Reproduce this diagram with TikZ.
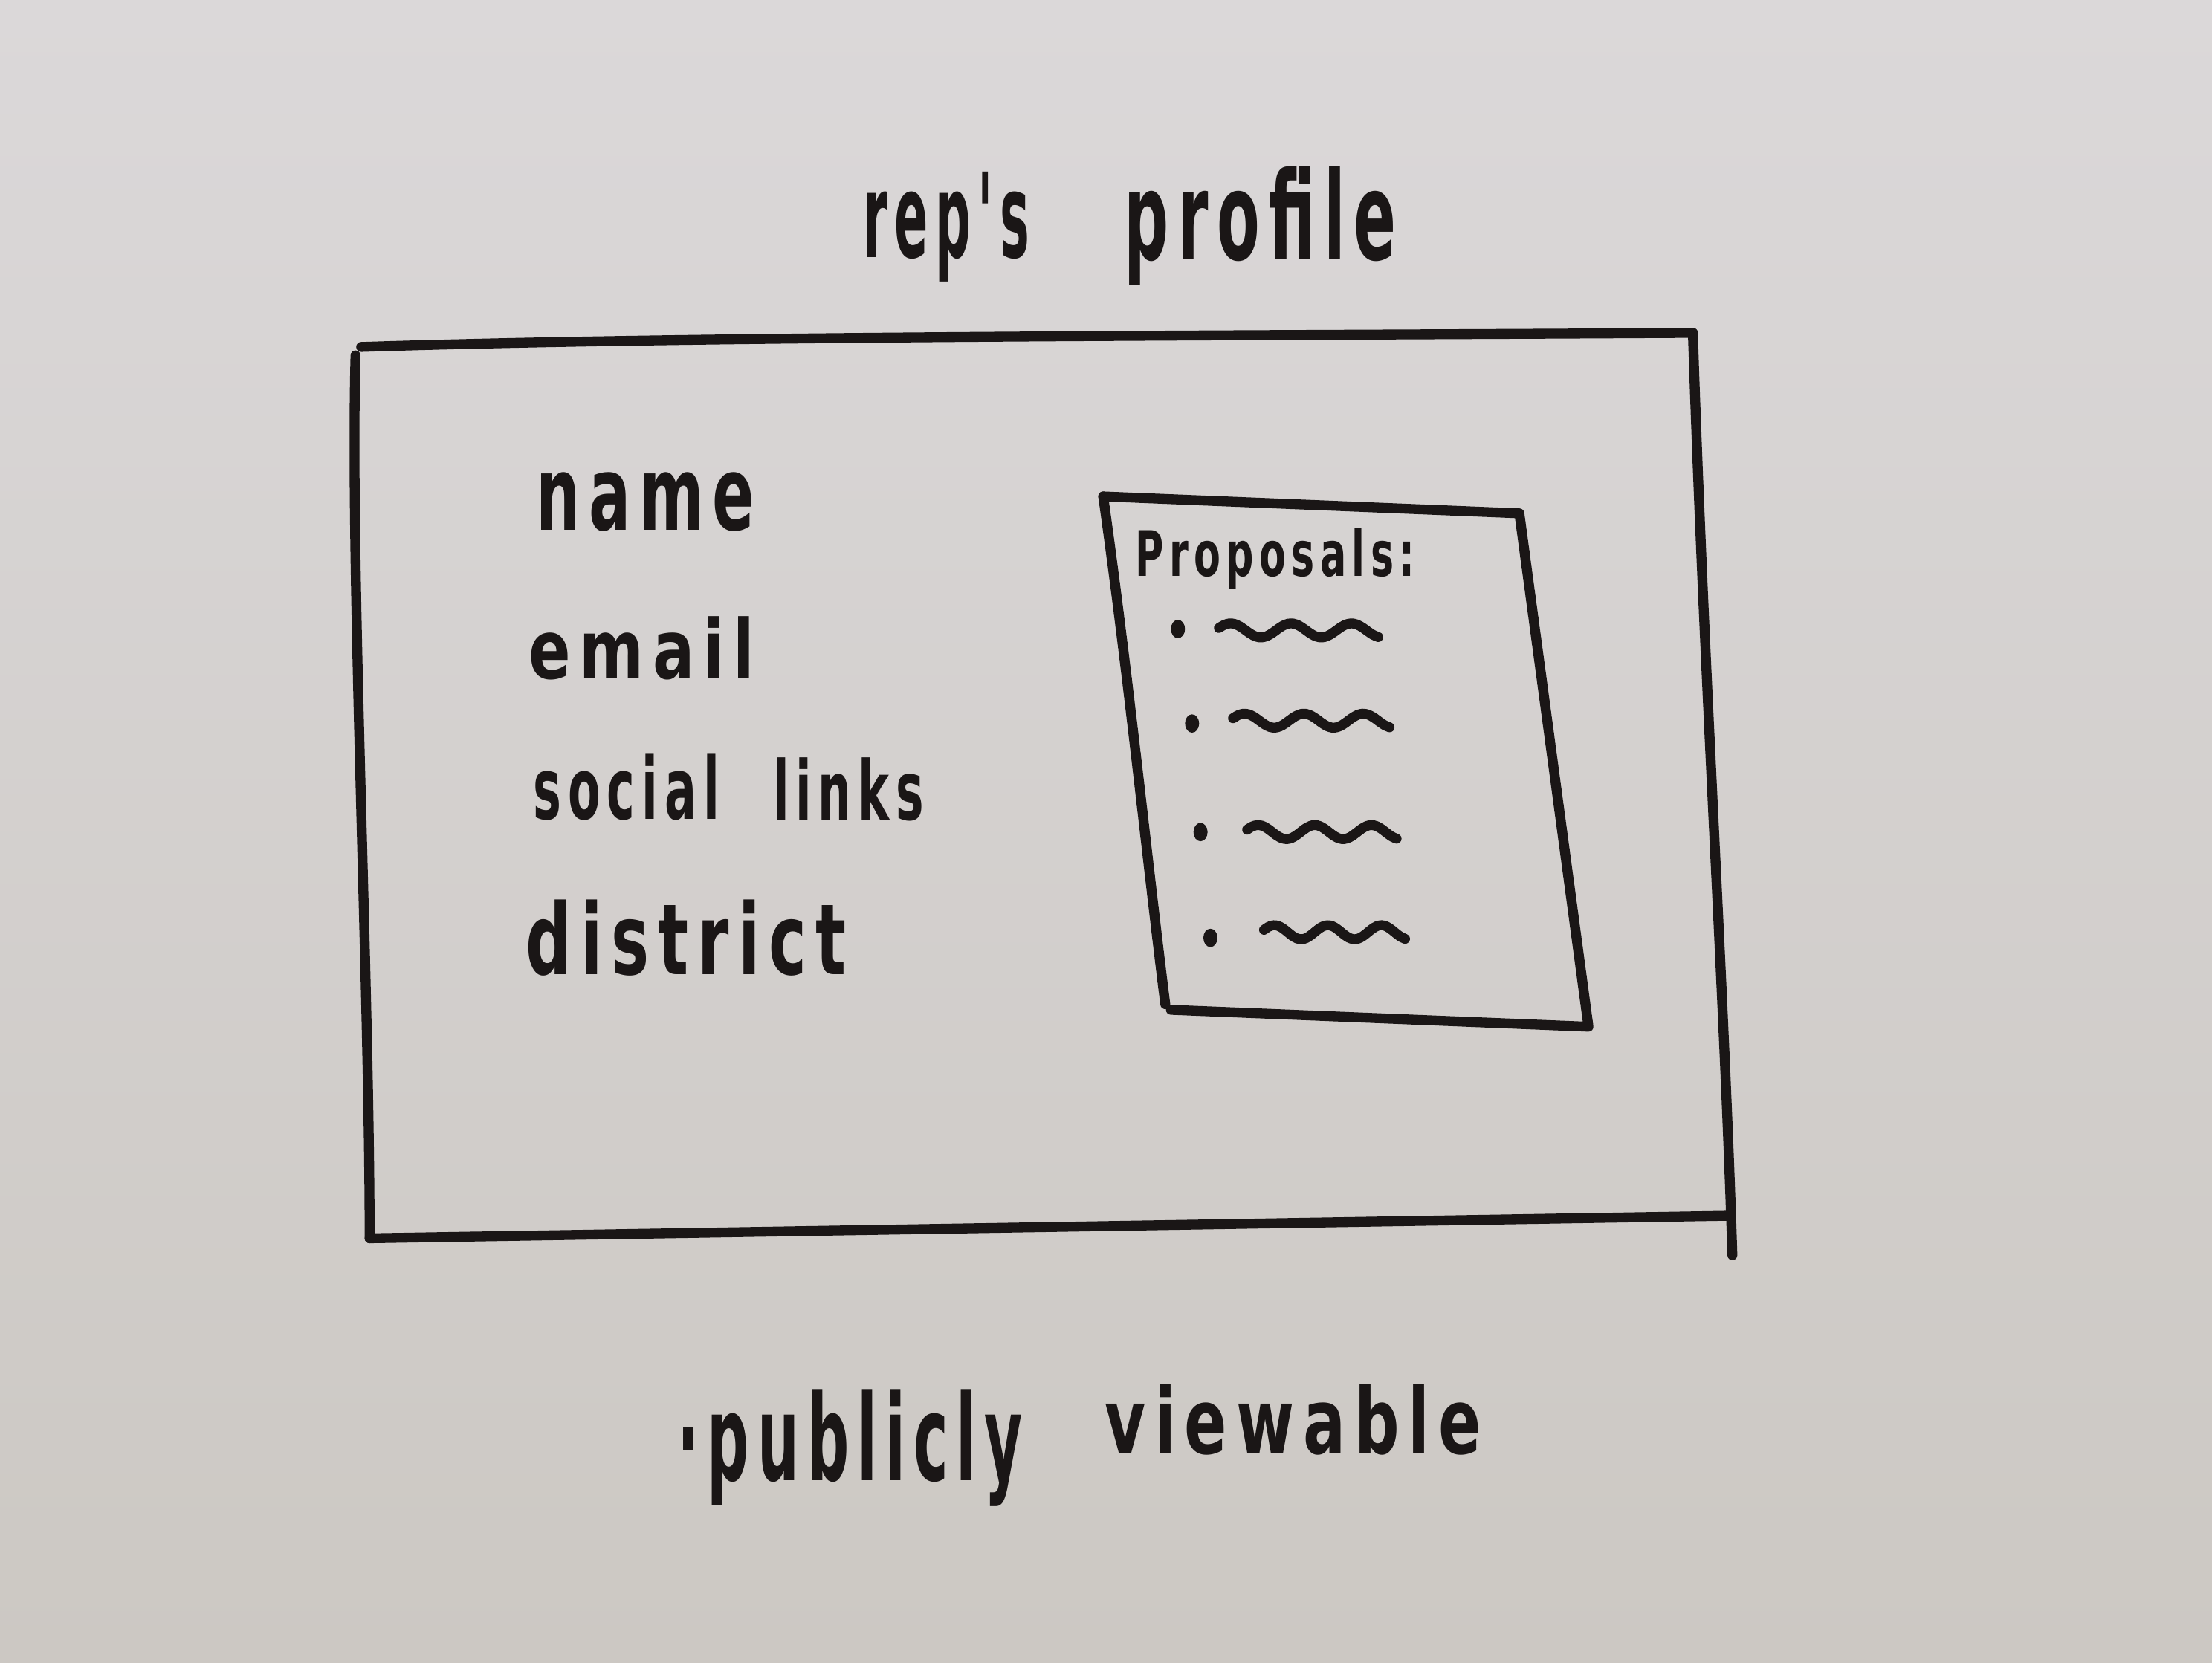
\documentclass[tikz,border=0pt]{standalone}
\usepackage{fontspec}
\usepackage{graphicx}
\setmainfont{DejaVu Sans}
\newfontfamily\handfont{DejaVu Sans}[LetterSpace=14]
\definecolor{inkc}{RGB}{26,22,22}
\definecolor{papertop}{RGB}{219,216,217}
\definecolor{papermid}{RGB}{226,223,219}
\definecolor{paperbot}{RGB}{204,200,195}
\begin{document}
\begin{tikzpicture}[x=0.02cm,y=-0.02cm,
  ink/.style={draw=inkc, line width=4pt, line cap=round, line join=round},
  lbl/.style={anchor=north west, inner sep=0pt, outer sep=0pt, text=inkc, font=\handfont\bfseries},
  dotmark/.style={fill=inkc}]

% paper
\shade[top color=papertop, middle color=papermid, bottom color=paperbot] (0,0) rectangle (1568,1179);
\useasboundingbox (0,0) rectangle (1568,1179);

% heading
\node[lbl] (title1) at (612,122) {\resizebox*{2.36cm}{1.56cm}{rep's}};
\node[lbl] (title2) at (797,118) {\resizebox*{3.86cm}{1.68cm}{profile}};

% footer
\node[lbl] (foot1) at (480,985) {\resizebox*{4.90cm}{1.66cm}{·publicly}};
\node[lbl] (foot2) at (783,982) {\resizebox*{5.34cm}{1.00cm}{viewable}};

% outer frame
\coordinate (oTL) at (256,246);
\coordinate (oLTop) at (252,252);
\coordinate (oTR) at (1200,236);
\coordinate (oBR) at (1226,862);
\coordinate (oRend) at (1228,890);
\coordinate (oBL) at (262,878);
\draw[ink] (oTL) .. controls (500,238) and (900,238) .. (oTR);
\draw[ink] (oTR) .. controls (1208,480) and (1222,700) .. (oRend);
\draw[ink] (oBL) -- (oBR);
\draw[ink] (oLTop) .. controls (248,400) and (262,700) .. (oBL);

% profile fields
\node[lbl] (name) at (380,335) {\resizebox*{3.10cm}{0.84cm}{name}};
\node[lbl] (email) at (375,437) {\resizebox*{3.20cm}{0.90cm}{email}};
\node[lbl] (social) at (378,535) {\resizebox*{2.64cm}{0.94cm}{social}};
\node[lbl] (links) at (548,537) {\resizebox*{2.14cm}{0.90cm}{links}};
\node[lbl] (district) at (373,638) {\resizebox*{4.54cm}{1.08cm}{district}};

% proposals panel
\coordinate (iTL) at (782,352);
\coordinate (iTR) at (1077,364);
\coordinate (iBR) at (1126,728);
\coordinate (iBL) at (830,716);
\coordinate (iLend) at (826,712);
\draw[ink] (iTL) -- (iTR) -- (iBR) -- (iBL);
\draw[ink] (iTL) .. controls (800,480) and (812,600) .. (iLend);
\node[lbl] (proposals) at (805,375) {\resizebox*{3.96cm}{0.86cm}{Proposals:}};

% list items: dot followed by a scribble
\foreach \bx/\by/\sx/\sy/\len in {835/446/864/447/113, 845/513/874/511/111, 851/590/884/590/106, 858/665/896/661/100}{
  \fill[dotmark] (\bx,\by) ellipse (5 and 6.5);
  \draw[ink] plot[smooth, domain=0:1, samples=31, variable=\t] ({\sx+\len*\t}, {\sy-5*sin(950*\t+20)});
}
\end{tikzpicture}
\end{document}
